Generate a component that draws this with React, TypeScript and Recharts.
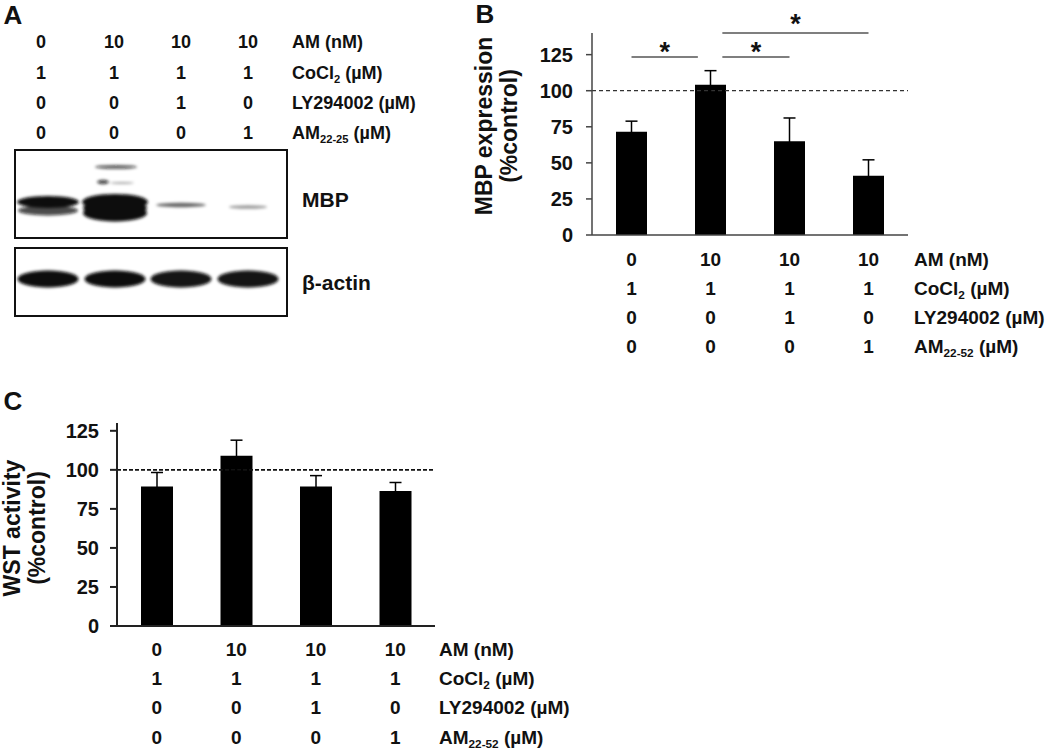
import React from "react";
import { BarChart, Bar, XAxis, YAxis, ErrorBar, ReferenceLine } from "recharts";

const FONT = '"Liberation Sans", Arial, Helvetica, sans-serif';
const INK = "#111";

// treatment table, one entry per lane
const lanes = [0, 1, 2, 3];
const amNM = ["0", "10", "10", "10"];
const cocl2 = ["1", "1", "1", "1"];
const ly294002 = ["0", "0", "1", "0"];
const am2252 = ["0", "0", "0", "1"];
const tableRows = [amNM, cocl2, ly294002, am2252];

// B: MBP expression (%control), mean and error
const mbpMean = [71.5, 104.2, 64.9, 41.1];
const mbpErr = [7.4, 9.7, 16.2, 11];

// C: WST activity (%control)
const wstMean = [89.3, 109, 89.3, 86.5];
const wstErr = [9, 10, 7, 5.4];

const yTicks = [0, 25, 50, 75, 100, 125];

// significance brackets in B (lane positions, height in %control)
const sigFrom = [0, 1.15, 1.15];
const sigTo = [0.84, 2, 3];
const sigLevel = [123.4, 123.4, 140];

// western blot (panel A): lane intensities
const blotLaneX = [48, 115, 181, 248];
const mbpUpper = [1, 1, 0.6, 0.4];
const mbpLower = [0.75, 1, 0, 0];
const actinBand = [1, 1, 0.97, 0.97];

const mbpData = lanes.map((lane, i) => ({ lane, mean: mbpMean[i], err: mbpErr[i] }));
const wstData = lanes.map((lane, i) => ({ lane, mean: wstMean[i], err: wstErr[i] }));

function Sub({ children }: { children: React.ReactNode }) {
  return (
    <span style={{ fontSize: "0.62em", position: "relative", top: "0.32em" }}>{children}</span>
  );
}

function rowLabels(amSub: string) {
  return [
    <>AM (nM)</>,
    <>
      CoCl<Sub>2</Sub> (µM)
    </>,
    <>LY294002 (µM)</>,
    <>
      AM<Sub>{amSub}</Sub> (µM)
    </>,
  ];
}

// text whose cap centre sits on y
function T({
  x,
  y,
  size = 19,
  align = "center",
  children,
}: {
  x: number;
  y: number;
  size?: number;
  align?: "center" | "left";
  children: React.ReactNode;
}) {
  return (
    <div
      style={{
        position: "absolute",
        left: x,
        top: y,
        transform: align === "center" ? "translate(-50%,-50%)" : "translate(0,-50%)",
        fontSize: size,
        lineHeight: 1,
        fontWeight: "bold",
        whiteSpace: "nowrap",
        color: INK,
      }}
    >
      {children}
    </div>
  );
}

function AxisTitle({ x, y, lines }: { x: number; y: number; lines: string[] }) {
  return (
    <div
      style={{
        position: "absolute",
        left: x,
        top: y,
        transform: "translate(-50%,-50%) rotate(-90deg)",
        fontSize: 23,
        lineHeight: "25px",
        fontWeight: "bold",
        textAlign: "center",
        whiteSpace: "nowrap",
        color: INK,
      }}
    >
      {lines.map((l) => (
        <div key={l}>{l}</div>
      ))}
    </div>
  );
}

function TableTick(props: any) {
  const { x, y, payload, offsets } = props;
  const i = Math.round(Number(payload.value));
  if (!(i >= 0 && i < lanes.length)) return null;
  return (
    <g>
      {tableRows.map((row, r) => (
        <text
          key={r}
          x={x}
          y={y + offsets[r]}
          dy="0.36em"
          textAnchor="middle"
          fontFamily={FONT}
          fontWeight="bold"
          fontSize={19}
          fill={INK}
        >
          {row[i]}
        </text>
      ))}
    </g>
  );
}

const yTickStyle = { fontSize: 20, fontWeight: "bold", fill: INK, fontFamily: FONT };

function PanelB() {
  return (
    <div style={{ position: "absolute", left: 460, top: 0 }}>
      <BarChart
        width={590}
        height={370}
        data={mbpData}
        margin={{ top: 33, right: 142, bottom: 14, left: 72 }}
      >
        <XAxis
          dataKey="lane"
          type="number"
          domain={[-0.5, 3.5]}
          ticks={lanes}
          allowDataOverflow
          height={121}
          axisLine={{ stroke: "#444", strokeWidth: 1.5 }}
          tickLine={false}
          tickSize={0}
          tickMargin={0}
          tick={(p: any) => <TableTick {...p} offsets={[24, 53, 82, 111]} />}
          interval={0}
        />
        <YAxis
          width={60}
          domain={[0, 140]}
          ticks={yTicks}
          axisLine={{ stroke: "#444", strokeWidth: 1.5 }}
          tickLine={{ stroke: "#444", strokeWidth: 1.5 }}
          tickSize={6}
          tickMargin={13}
          tick={yTickStyle}
        />
        <ReferenceLine y={100} stroke="#333" strokeWidth={1.2} strokeDasharray="4 3" />
        <Bar dataKey="mean" fill="#000" barSize={31} isAnimationActive={false}>
          <ErrorBar dataKey="err" width={6} stroke="#000" strokeWidth={1.5} direction="y" />
        </Bar>
        {sigFrom.map((from, k) => (
          <ReferenceLine
            key={k}
            ifOverflow="visible"
            segment={[
              { x: from, y: sigLevel[k] },
              { x: sigTo[k], y: sigLevel[k] },
            ]}
            stroke="#555"
            strokeWidth={1.5}
            label={{
              value: "*",
              position: "top",
              offset: k === 2 ? 0 : -4,
              fontSize: 27,
              fontWeight: "bold",
              fill: INK,
              fontFamily: FONT,
            }}
          />
        ))}
      </BarChart>
    </div>
  );
}

function PanelC() {
  return (
    <div style={{ position: "absolute", left: 0, top: 380 }}>
      <BarChart
        width={560}
        height={372}
        data={wstData}
        margin={{ top: 43, right: 125, bottom: 6, left: 57 }}
      >
        <XAxis
          dataKey="lane"
          type="category"
          height={120}
          axisLine={{ stroke: "#222", strokeWidth: 2 }}
          tickLine={false}
          tickSize={0}
          tickMargin={0}
          tick={(p: any) => <TableTick {...p} offsets={[23, 52, 81, 111]} />}
          interval={0}
        />
        <YAxis
          width={60}
          domain={[0, 130]}
          ticks={yTicks}
          axisLine={{ stroke: "#222", strokeWidth: 2 }}
          tickLine={{ stroke: "#222", strokeWidth: 2 }}
          tickSize={7}
          tickMargin={11}
          tick={yTickStyle}
        />
        <ReferenceLine y={100} stroke="#111" strokeWidth={1.6} strokeDasharray="4 2" />
        <Bar dataKey="mean" fill="#000" barSize={32} isAnimationActive={false}>
          <ErrorBar dataKey="err" width={6} stroke="#000" strokeWidth={1.5} direction="y" />
        </Bar>
      </BarChart>
    </div>
  );
}

function Blot() {
  return (
    <svg
      width={300}
      height={320}
      style={{ position: "absolute", left: 0, top: 0 }}
    >
      <defs>
        <filter id="blur" x="-20%" y="-50%" width="140%" height="200%">
          <feGaussianBlur stdDeviation="1.8" />
        </filter>
      </defs>
      <g filter="url(#blur)" fill="#0a0a0a">
        {blotLaneX.map((cx, i) => (
          <g key={i}>
            {mbpUpper[i] > 0 && (
              <ellipse
                cx={cx}
                cy={i < 2 ? 202 : 205 + (i - 2) * 2}
                rx={i === 0 ? 31 : i === 1 ? 33 : i === 2 ? 25 : 19}
                ry={i === 0 ? 6 : i === 1 ? 8 : 2.2 - (i - 2) * 0.5}
                opacity={mbpUpper[i]}
              />
            )}
            {mbpLower[i] > 0 && (
              <ellipse
                cx={cx}
                cy={i === 0 ? 210.5 : 213}
                rx={i === 0 ? 30 : 32}
                ry={i === 0 ? 5 : 8.5}
                opacity={mbpLower[i]}
              />
            )}
            <ellipse cx={cx} cy={279} rx={30.5} ry={8.5} opacity={actinBand[i]} />
          </g>
        ))}
        <ellipse cx={115} cy={208} rx={32} ry={7} />
        <ellipse cx={116} cy={167} rx={21} ry={2} opacity={0.65} />
        <ellipse cx={103} cy={182} rx={6} ry={2.2} opacity={0.75} />
        <ellipse cx={122} cy={183} rx={12} ry={0.9} opacity={0.35} />
      </g>
      <rect x={15} y={150} width={272} height={88} fill="none" stroke="#111" strokeWidth={2} />
      <rect x={15} y={248} width={272} height={68} fill="none" stroke="#111" strokeWidth={2} />
    </svg>
  );
}

export default function App() {
  const colA = [41, 114, 181, 248];
  const rowA = [42, 73, 103, 133];
  const rowB = [259, 288, 317, 346];
  const rowC = [649, 678, 707, 737];
  const labA = rowLabels("22-25");
  const labBC = rowLabels("22-52");
  return (
    <div
      style={{
        position: "absolute",
        left: 0,
        top: 0,
        width: 1050,
        height: 752,
        background: "#fff",
        fontFamily: FONT,
        overflow: "hidden",
      }}
    >
      {/* A: blot with treatment table */}
      <T x={13} y={15} size={26}>A</T>
      {tableRows.map((row, r) =>
        row.map((v, c) => (
          <T key={`a${r}${c}`} x={colA[c]} y={rowA[r]} size={18}>
            {v}
          </T>
        ))
      )}
      {labA.map((l, r) => (
        <T key={`la${r}`} x={292} y={rowA[r]} size={18} align="left">
          {l}
        </T>
      ))}
      <Blot />
      <T x={302} y={199} size={21} align="left">MBP</T>
      <T x={302} y={282} size={21} align="left">β-actin</T>

      {/* B */}
      <T x={485} y={14} size={26}>B</T>
      <AxisTitle x={497} y={126} lines={["MBP expression", "(%control)"]} />
      <PanelB />
      {labBC.map((l, r) => (
        <T key={`lb${r}`} x={914} y={rowB[r]} align="left">
          {l}
        </T>
      ))}

      {/* C */}
      <T x={13} y={401} size={26}>C</T>
      <AxisTitle x={25} y={528} lines={["WST activity", "(%control)"]} />
      <PanelC />
      {labBC.map((l, r) => (
        <T key={`lc${r}`} x={439} y={rowC[r]} align="left">
          {l}
        </T>
      ))}
    </div>
  );
}
